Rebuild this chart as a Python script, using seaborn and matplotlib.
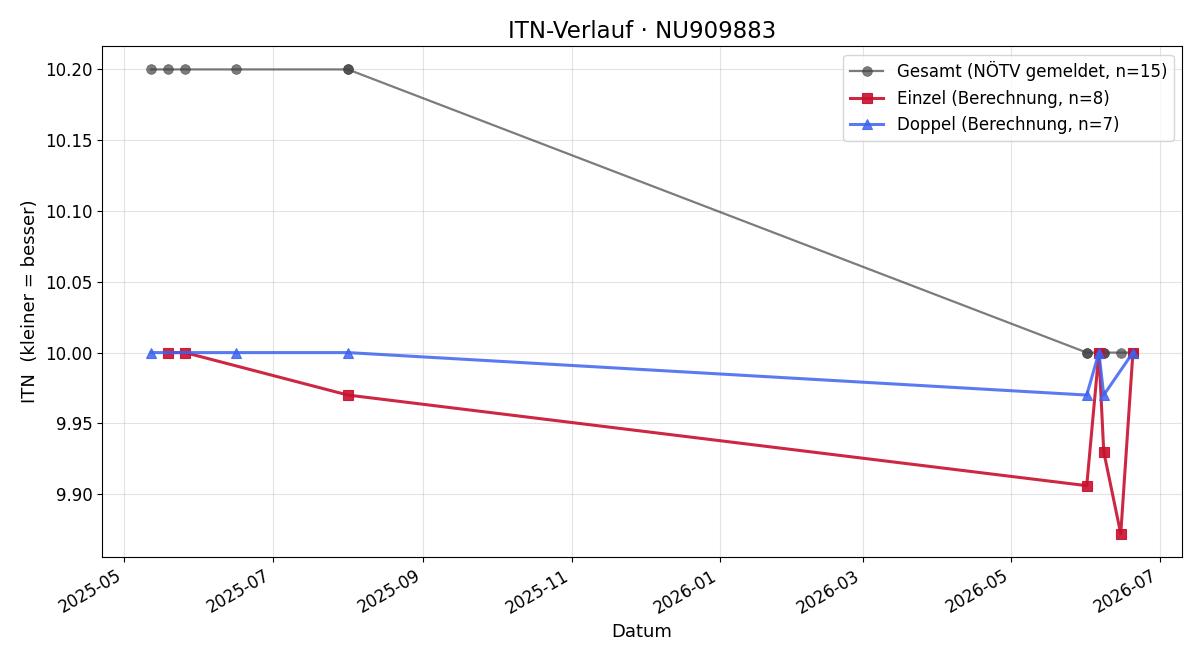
import pandas as pd
import numpy as np
import matplotlib
matplotlib.use("Agg")
import matplotlib.pyplot as plt
import matplotlib.dates as mdates
import seaborn as sns

# ── Data ────────────────────────────────────────────────────────────────
gesamt_dates = ["2025-05-12", "2025-05-19", "2025-05-26", "2025-06-16",
                "2025-08-01", "2025-08-01",
                "2026-06-01", "2026-06-01", "2026-06-06", "2026-06-06",
                "2026-06-08", "2026-06-08", "2026-06-15",
                "2026-06-20", "2026-06-20"]
gesamt_itn = [10.20, 10.20, 10.20, 10.20, 10.20, 10.20,
              10.00, 10.00, 10.00, 10.00, 10.00, 10.00, 10.00, 10.00, 10.00]

einzel_dates = ["2025-05-19", "2025-05-26", "2025-08-01", "2026-06-01",
                "2026-06-06", "2026-06-08", "2026-06-15", "2026-06-20"]
einzel_itn = [10.00, 10.00, 9.970, 9.906, 10.00, 9.930, 9.872, 10.00]

doppel_dates = ["2025-05-12", "2025-06-16", "2025-08-01", "2026-06-01",
                "2026-06-06", "2026-06-08", "2026-06-20"]
doppel_itn = [10.00, 10.00, 10.00, 9.970, 10.00, 9.970, 10.00]

ges = pd.DataFrame({"Datum": pd.to_datetime(gesamt_dates), "ITN": gesamt_itn})
ein = pd.DataFrame({"Datum": pd.to_datetime(einzel_dates), "ITN": einzel_itn})
dop = pd.DataFrame({"Datum": pd.to_datetime(doppel_dates), "ITN": doppel_itn})

# ── Plot ────────────────────────────────────────────────────────────────
fig, ax = plt.subplots(figsize=(12, 6.6), dpi=100)

sns.lineplot(data=ges, x="Datum", y="ITN", ax=ax, estimator=None,
             color="#444444", alpha=0.7, linewidth=1.6, marker="o",
             markersize=7, markeredgecolor="#444444", markeredgewidth=0.5,
             label=f"Gesamt (NÖTV gemeldet, n={len(ges)})")
sns.lineplot(data=ein, x="Datum", y="ITN", ax=ax, estimator=None,
             color="#C8102E", alpha=0.9, linewidth=2.2, marker="s",
             markersize=7.5, markeredgecolor="#C8102E", markeredgewidth=0.8,
             label=f"Einzel (Berechnung, n={len(ein)})")
sns.lineplot(data=dop, x="Datum", y="ITN", ax=ax, estimator=None,
             color="#3D63F0", alpha=0.85, linewidth=2.2, marker="^",
             markersize=7.5, markeredgecolor="#3D63F0", markeredgewidth=0.8,
             label=f"Doppel (Berechnung, n={len(dop)})")

ax.set_title("ITN-Verlauf · NU909883", fontsize=16.5)
ax.set_xlabel("Datum", fontsize=13)
ax.set_ylabel("ITN  (kleiner = besser)", fontsize=13)
ax.tick_params(labelsize=12)
ax.grid(True, alpha=0.35)
ax.xaxis.set_major_locator(mdates.MonthLocator(bymonth=[1, 3, 5, 7, 9, 11]))
ax.xaxis.set_major_formatter(mdates.DateFormatter("%Y-%m"))
ax.yaxis.set_major_formatter(matplotlib.ticker.FormatStrFormatter("%.2f"))
ax.legend(loc="upper right", fontsize=12)
fig.autofmt_xdate()

fig.subplots_adjust(left=0.085, right=0.985, top=0.930, bottom=0.156)
plt.savefig("out.png")
